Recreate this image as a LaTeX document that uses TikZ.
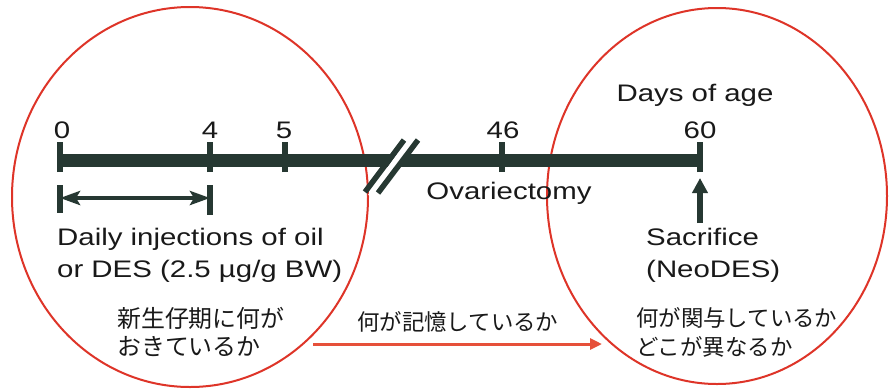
\documentclass[tikz,border=0pt]{standalone}
\usepackage{fontspec}
\setmainfont{Liberation Sans}
\newfontfamily\enfont[FakeStretch=1.23]{Liberation Sans}
\newfontfamily\jpfont{Noto Sans CJK JP}
\usetikzlibrary{arrows.meta}
\definecolor{bardark}{RGB}{38,56,50}
\definecolor{circred}{RGB}{222,52,40}
\definecolor{arrred}{RGB}{230,80,58}
\tikzset{
  en/.style={font=\enfont\fontsize{24}{32}\selectfont, inner sep=0pt, text=black!90},
  jp/.style={font=\jpfont\fontsize{22.5}{29}\selectfont, inner sep=0pt, text=black!90},
  jpbig/.style={font=\jpfont\fontsize{24}{29}\selectfont, inner sep=0pt, text=black!90},
  tick/.style={draw=bardark, line width=6.5bp},
  ring/.style={draw=circred, line width=2bp},
}
\begin{document}
\begin{tikzpicture}[x=1bp,y=-1bp]
\useasboundingbox (0,0) rectangle (891,388);
\fill[white] (0,0) rectangle (891,388);
% circles
\draw[ring] (190,197) ellipse (178 and 190);
\draw[ring] (717,196) ellipse (170 and 188);
% timeline
\coordinate (t0) at (60,160);
\coordinate (t4) at (210,160);
\coordinate (t5) at (285,160);
\coordinate (t46) at (502,160);
\coordinate (t60) at (700,160);
\draw[draw=bardark, line width=13bp] (57,160) -- (703,160);
% break
\fill[white] (368,195) -- (408,138) -- (416,138) -- (376,195) -- cycle;
\draw[bardark, line width=5.5bp] (365,192) -- (404,140);
\draw[bardark, line width=5.5bp] (378,193) -- (418,140);
% ticks
\foreach \p in {t0,t4,t5,t46,t60}{
  \draw[tick] ([yshift=-12bp]\p) -- ([yshift=18bp]\p);
}
% bracket
\coordinate (b0) at (60,198);
\coordinate (b4) at (210,198);
\draw[tick] (60,185) -- (60,213);
\draw[tick] (210,185) -- (210,215);
\draw[bardark, line width=4bp, {Stealth[length=20bp,width=14bp,inset=4bp]}-{Stealth[length=20bp,width=14bp,inset=4bp]}] (b0) -- (b4);
% labels
\node[en] (l0) at (62,130) {0};
\node[en] (l4) at (210,130) {4};
\node[en] (l5) at (284,130) {5};
\node[en] (l46) at (503,130) {46};
\node[en] (l60) at (700,130) {60};
\node[en] (days) at (695,95) {Days of age};
\node[en] (ovx) at (509,193) {Ovariectomy};
% sacrifice arrow
\coordinate (sacfoot) at (700,223);
\coordinate (sactip) at (700,178);
\draw[bardark, line width=5.5bp, -{Triangle[length=15bp,width=15bp]}] (sacfoot) -- (sactip);
\node[en, anchor=west, align=left] (sac) at (646,255) {Sacrifice\\(NeoDES)};
\node[en, anchor=west, align=left] (daily) at (57,255) {Daily injections of oil\\or DES (2.5 µg/g BW)};
% japanese
\node[jpbig, anchor=west, align=left] (jl) at (117,332) {新生仔期に何が\\おきているか};
\node[jp, anchor=west] (jm) at (357,322) {何が記憶しているか};
\node[jp, anchor=west, align=left] (jr) at (636,332) {何が関与しているか\\どこが異なるか};
% red arrow
\coordinate (ra) at (313,344);
\coordinate (rb) at (602,344);
\draw[arrred, line width=3bp, -{Triangle[length=12bp,width=11bp]}] (ra) -- (rb);
\end{tikzpicture}
\end{document}
